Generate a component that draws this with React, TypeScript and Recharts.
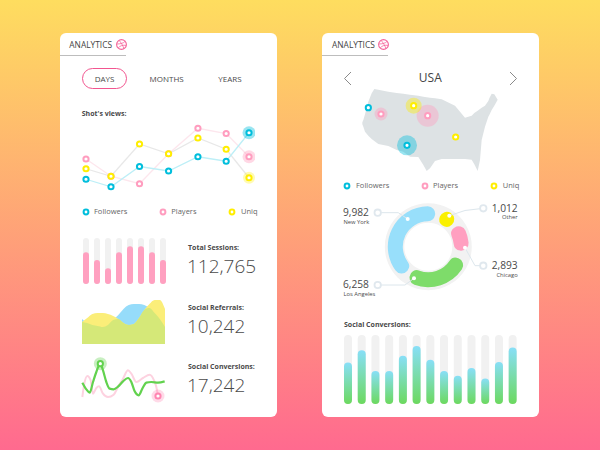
import React from "react";
import {
  Area, AreaChart, Bar, BarChart, Cell, ComposedChart, Line, LineChart, Pie, PieChart, Scatter, XAxis, YAxis,
} from "recharts";

const FONT = "'Open Sans', sans-serif";
const BLUE = "#00BEDC";
const PINK = "#FF9DBF";
const YELLOW = "#FFEE00";

// shot's views
const days = [0, 0.92, 1.97, 3.04, 4.12, 5.16, 6];
const followers = [21, 11, 38, 32, 51, 45, 83];
const players = [48, 25, 15, 55, 89, 82, 51];
const uniq = [35, 25, 68, 55, 76, 61, 23];
const viewsData = days.map((day, i) => ({ day, followers: followers[i], players: players[i], uniq: uniq[i] }));

// total sessions
const sessions = [69, 52, 34, 69, 82, 82, 69, 52];
const sessionsData = sessions.map((v, i) => ({ i, v }));

// social referrals
const referralsA = [25, 21, 19, 18, 17, 19, 24, 29, 35, 39, 40, 40, 39, 36, 31, 25, 17];
const referralsB = [22, 26, 30, 31, 31, 30, 28, 25, 21, 19, 20, 26, 34, 40, 44, 44, 35];
const referralsData = referralsA.map((a, i) => ({ i, a, b: referralsB[i], both: Math.min(a, referralsB[i]) }));

// social conversions, small
const convGreenX = [13, 25, 35, 45, 55, 67, 75, 85, 95, 107, 120, 135, 150, 160, 170, 182, 193, 205, 220, 240, 260];
const convGreenY = [92, 112, 122, 90, 60, 35, 55, 90, 110, 112, 104, 88, 78, 90, 118, 130, 110, 92, 90, 92, 88];
const convPinkX = [13, 18, 28, 38, 45, 55, 63, 75, 90, 107, 120, 135, 150, 160, 175, 195, 215, 228, 235, 240];
const convPinkY = [135, 100, 72, 85, 125, 108, 103, 125, 135, 128, 105, 80, 55, 65, 90, 78, 68, 85, 105, 132];
const convGreen = convGreenX.map((x, i) => ({ x, y: convGreenY[i] }));
const convPink = convPinkX.map((x, i) => ({ x, y: convPinkY[i] }));

// usa map outline
const mapX = [22, 25, 30, 40, 50, 58, 70, 100, 125, 145, 165, 190, 205, 215, 225, 240, 260, 300, 330, 350, 358, 368, 375, 380, 390, 400, 403, 410, 418, 428];
const mapTop = [112, 105, 88, 50, 25, 12, 14, 20, 24, 26, 29, 32, 35, 37, 38, 40, 43, 62, 98, 92, 84, 77, 72, 68, 62, 48, 40, 26, 28, 44];
const mapBottom = [118, 125, 140, 152, 162, 168, 177, 183, 195, 200, 215, 216, 240, 258, 250, 228, 222, 222, 222, 224, 238, 258, 225, 165, 125, 95, 90, 75, 62, 44];
const mapData = mapX.map((x, i) => ({ x, range: [mapTop[i], mapBottom[i]] }));

const cityX = [40, 78, 218, 176, 156, 302];
const cityY = [68, 87, 92, 62, 181, 156];
const citySize = [0, 6.5, 11, 8, 10, 0];
const cityColor = [BLUE, PINK, PINK, YELLOW, BLUE, YELLOW];
const cityData = cityX.map((x, i) => ({ x, y: cityY[i], size: citySize[i], color: cityColor[i] }));

// donut, arcs in degrees clockwise, gaps between them
const arcNames = ["gap", "Other", "gap", "Chicago", "gap", "Los Angeles", "gap", "New York"];
const arcDegrees = [9, 26, 7, 43, 14, 102, 8, 151];
const arcColors = ["none", "#FAF000", "none", "#FF9FC0", "none", "#7EDC6A", "none", "#98DFFB"];
const arcData = arcNames.map((name, i) => ({ name, value: arcDegrees[i] }));

// social conversions, big
const conversions = [60, 78, 48, 48, 70, 84, 64, 48, 41, 52, 37, 61, 82];
const conversionsData = conversions.map((v, i) => ({ i, v }));

function Txt({ x, y, size, color = "#4A4A4A", weight = 400, align = "left", children }: any) {
  const tx = align === "center" ? "-50%" : align === "right" ? "-100%" : "0";
  return (
    <div style={{
      position: "absolute", left: x, top: y, transform: `translate(${tx}, -50%)`, fontSize: size, fontWeight: weight,
      color, lineHeight: 1, whiteSpace: "nowrap", fontFamily: FONT,
    }}>{children}</div>
  );
}

function Box({ x, y, children }: any) {
  return <div style={{ position: "absolute", left: x, top: y }}>{children}</div>;
}

function ringDot(color: string, halo: any, haloOpacity = 0.35) {
  return (props: any) => {
    const { cx, cy, index } = props;
    const h = halo[index] || 0;
    return (
      <g key={index}>
        {h > 0 && <circle cx={cx} cy={cy} r={h} fill={color} opacity={haloOpacity} />}
        <circle cx={cx} cy={cy} r={2.6} fill="#fff" stroke={color} strokeWidth={2} />
      </g>
    );
  };
}

function CityMark(props: any) {
  const { cx, cy, payload } = props;
  return (
    <g>
      {payload.size > 0 && <circle cx={cx} cy={cy} r={payload.size} fill={payload.color} opacity={0.4} />}
      <circle cx={cx} cy={cy} r={2.6} fill="#fff" stroke={payload.color} strokeWidth={2} />
    </g>
  );
}

function Dribbble({ x, y }: { x: number; y: number }) {
  return (
    <svg width={13} height={13} viewBox="0 0 13 13" style={{ position: "absolute", left: x - 6.5, top: y - 6.5 }}>
      <circle cx={6.5} cy={6.5} r={4.9} fill="none" stroke="#F5659B" strokeWidth={1.1} />
      <path d="M4 2.3C6 4.5 8 7.5 9 11M1.8 6C5 6 8.5 5.4 10.2 3.2M3.2 10C5 7.6 8 6.8 11.3 7.4" fill="none" stroke="#F5659B" strokeWidth={0.8} />
    </svg>
  );
}

function Tab({ x, iconX, lineX, lineW }: any) {
  return (
    <>
      <Txt x={x} y={44.5} size={8.4} color="#444">ANALYTICS</Txt>
      <Dribbble x={iconX} y={44.3} />
      <div style={{ position: "absolute", left: lineX, top: 55, width: lineW, height: 1, background: "#BDBDBD" }} />
    </>
  );
}

function Legend({ y, items }: { y: number; items: [number, number, string, string][] }) {
  return (
    <>
      {items.map(([dotX, textX, label, color]) => (
        <React.Fragment key={label}>
          <svg width={10} height={10} style={{ position: "absolute", left: dotX - 5, top: y - 5 }}>
            <circle cx={5} cy={5} r={2.4} fill="#fff" stroke={color} strokeWidth={2} />
          </svg>
          <Txt x={textX} y={y} size={7.5} color="#666">{label}</Txt>
        </React.Fragment>
      ))}
    </>
  );
}

function Leaders() {
  const paths = [
    { d: "M377.7 212.7H398.3L407.7 219", a: [377.7, 212.7], b: [407.7, 219] },
    { d: "M483.3 208.3L465 210.5L449.3 215.7", a: [483.3, 208.3], b: [449.3, 215.7] },
    { d: "M483.3 265.7H475L465 247.7", a: [483.3, 265.7], b: [465, 247.7] },
    { d: "M377.7 285H405L414 278.3", a: [377.7, 285], b: [414, 278.3] },
  ];
  return (
    <svg width={600} height={450} style={{ position: "absolute", left: 0, top: 0 }}>
      {paths.map((p) => (
        <g key={p.d}>
          <path d={p.d} fill="none" stroke="#DCE6EC" strokeWidth={1} />
          <circle cx={p.a[0]} cy={p.a[1]} r={3.2} fill="#fff" stroke="#E0E8EE" strokeWidth={1.8} />
          <circle cx={p.b[0]} cy={p.b[1]} r={2} fill="#fff" />
        </g>
      ))}
    </svg>
  );
}

export default function App() {
  return (
    <div style={{
      position: "absolute", left: 0, top: 0, width: 600, height: 450, overflow: "hidden",
      background: "linear-gradient(180deg, #FEDD5F 0%, #FF6A8F 100%)",
    }}>
      {/* left card */}
      <div style={{ position: "absolute", left: 60, top: 33, width: 217, height: 384, background: "#fff", borderRadius: 6 }} />
      <Tab x={69.3} iconX={121} lineX={60} lineW={66} />
      <div style={{
        position: "absolute", left: 82, top: 68, width: 43, height: 19, border: "1.5px solid #F2558F", borderRadius: 11,
      }} />
      <Txt x={104.5} y={78.5} size={8} align="center">DAYS</Txt>
      <Txt x={166.7} y={78.5} size={8} align="center">MONTHS</Txt>
      <Txt x={230} y={78.5} size={8} align="center">YEARS</Txt>
      <Txt x={81.7} y={112.7} size={7} weight={700}>Shot's views:</Txt>

      <Box x={80} y={120}>
        <LineChart width={175} height={75} data={viewsData} margin={{ top: 0, right: 6, bottom: 0, left: 6 }}>
          <XAxis dataKey="day" type="number" domain={[0, 6]} hide />
          <YAxis domain={[0, 100]} hide />
          <Line dataKey="players" stroke="#FDE6ED" strokeWidth={1.3} isAnimationActive={false} dot={ringDot(PINK, [0, 0, 0, 0, 0, 0, 6.5], 0.4)} />
          <Line dataKey="uniq" stroke="#E8E8E8" strokeWidth={1.3} isAnimationActive={false} dot={ringDot(YELLOW, [0, 0, 0, 0, 0, 0, 6], 0.3)} />
          <Line dataKey="followers" stroke="#BDEFF7" strokeWidth={1.3} isAnimationActive={false} dot={ringDot(BLUE, [0, 0, 0, 0, 0, 0, 6.5], 0.4)} />
        </LineChart>
      </Box>
      <Legend y={212} items={[[85.7, 94, "Followers", BLUE], [162.7, 171.3, "Players", PINK], [232.3, 241, "Uniq", YELLOW]]} />

      <Box x={80} y={238}>
        <BarChart width={88} height={46} data={sessionsData} margin={{ top: 0, right: 0, bottom: 0, left: 0 }}>
          <XAxis dataKey="i" hide />
          <YAxis domain={[0, 100]} hide />
          <Bar dataKey="v" barSize={6} fill="#FFA0C0" radius={3} background={{ fill: "#F1F1F1", radius: 3 } as any} isAnimationActive={false} />
        </BarChart>
      </Box>
      <Txt x={188} y={246.7} size={7} weight={700}>Total Sessions:</Txt>
      <Txt x={187} y={265.7} size={19} weight={300}>112,765</Txt>

      <Box x={82} y={295}>
        <AreaChart width={83} height={49} data={referralsData} margin={{ top: 0, right: 0, bottom: 0, left: 0 }}>
          <XAxis dataKey="i" hide />
          <YAxis domain={[0, 49]} hide />
          <Area dataKey="a" type="monotone" stroke="none" fill="#96DCFA" fillOpacity={1} isAnimationActive={false} />
          <Area dataKey="b" type="monotone" stroke="none" fill="#FBEE79" fillOpacity={1} isAnimationActive={false} />
          <Area dataKey="both" type="monotone" stroke="none" fill="#D5E878" fillOpacity={1} isAnimationActive={false} />
        </AreaChart>
      </Box>
      <Txt x={188} y={306.7} size={7} weight={700}>Social Referrals:</Txt>
      <Txt x={187} y={325.7} size={19} weight={300}>10,242</Txt>

      <Box x={78} y={352}>
        <LineChart width={92} height={56} margin={{ top: 0, right: 0, bottom: 0, left: 0 }}>
          <XAxis dataKey="x" type="number" domain={[0, 276]} hide allowDuplicatedCategory={false} />
          <YAxis dataKey="y" type="number" domain={[0, 168]} reversed hide />
          <Line data={convPink} dataKey="y" type="monotone" stroke="#FDD2E0" strokeWidth={2} isAnimationActive={false}
            dot={(p: any) => (p.index === convPink.length - 1 ? ringDot("#FF86B2", { [p.index]: 6.5 }, 0.3)(p) : <g key={p.index} />)} />
          <Line data={convGreen} dataKey="y" type="monotone" stroke="#62D24E" strokeWidth={2.2} isAnimationActive={false}
            dot={(p: any) => (p.index === 5 ? ringDot("#62D24E", { 5: 6.5 }, 0.35)(p) : <g key={p.index} />)} />
        </LineChart>
      </Box>
      <Txt x={188} y={366} size={7} weight={700}>Social Conversions:</Txt>
      <Txt x={187} y={385} size={19} weight={300}>17,242</Txt>

      {/* right card */}
      <div style={{ position: "absolute", left: 322, top: 33, width: 217, height: 384, background: "#fff", borderRadius: 6 }} />
      <Tab x={332} iconX={383.3} lineX={322} lineW={66} />
      <Txt x={430.3} y={77.7} size={12} align="center" color="#444">USA</Txt>
      <svg width={600} height={450} style={{ position: "absolute", left: 0, top: 0 }}>
        <path d="M351 72L344.5 78.5L351 85M510 72L516.5 78.5L510 85" fill="none" stroke="#8A8A8A" strokeWidth={1} />
      </svg>

      <Box x={355} y={85}>
        <ComposedChart width={150} height={90} data={mapData} margin={{ top: 0, right: 0, bottom: 0, left: 0 }}>
          <XAxis dataKey="x" type="number" domain={[0, 450]} hide />
          <YAxis type="number" domain={[0, 270]} reversed hide />
          <Area dataKey="range" type="linear" stroke="none" fill="#DDE2E4" fillOpacity={1} isAnimationActive={false} />
          <Scatter data={cityData} dataKey="y" shape={CityMark} isAnimationActive={false} />
        </ComposedChart>
      </Box>
      <Legend y={185.7} items={[[347.3, 356, "Followers", BLUE], [424.7, 433, "Players", PINK], [494, 502.7, "Uniq", YELLOW]]} />

      <Box x={378} y={197}>
        <PieChart width={100} height={100} margin={{ top: 0, right: 0, bottom: 0, left: 0 }}>
          <Pie data={[{ name: "ring", value: 1 }]} dataKey="value" cx={50.3} cy={49.7} innerRadius={24} outerRadius={43.5} fill="#F2F2F2" stroke="none" isAnimationActive={false} />
          <Pie data={arcData} dataKey="value" cx={50.3} cy={49.7} innerRadius={25.5} outerRadius={40.5} startAngle={78} endAngle={-282}
            cornerRadius={7.4} stroke="none" isAnimationActive={false}>
            {arcData.map((d, i) => <Cell key={i} fill={arcColors[i]} stroke="none" />)}
          </Pie>
        </PieChart>
      </Box>
      <Leaders />
      <Txt x={343} y={211.5} size={10.2}>9,982</Txt>
      <Txt x={343.5} y={222.5} size={5.8}>New York</Txt>
      <Txt x={517.7} y={207.5} size={10.2} align="right">1,012</Txt>
      <Txt x={517.7} y={218} size={5.8} align="right">Other</Txt>
      <Txt x={517.7} y={264.8} size={10.2} align="right">2,893</Txt>
      <Txt x={517.7} y={275.5} size={5.8} align="right">Chicago</Txt>
      <Txt x={343} y={283.8} size={10.2}>6,258</Txt>
      <Txt x={343.5} y={294.5} size={5.8}>Los Angeles</Txt>

      <Txt x={344} y={324} size={7} weight={700}>Social Conversions:</Txt>
      <Box x={341} y={335}>
        <BarChart width={178.4} height={69} data={conversionsData} margin={{ top: 0, right: 0, bottom: 0, left: 0 }}>
          <defs>
            <linearGradient id="convGrad" x1="0" y1="0" x2="0" y2="1">
              <stop offset="0%" stopColor="#88DFF8" />
              <stop offset="100%" stopColor="#6CD95E" />
            </linearGradient>
          </defs>
          <XAxis dataKey="i" hide />
          <YAxis domain={[0, 100]} hide />
          <Bar dataKey="v" barSize={8} fill="url(#convGrad)" radius={4} background={{ fill: "#F1F1F1", radius: 4 } as any} isAnimationActive={false} />
        </BarChart>
      </Box>
    </div>
  );
}
